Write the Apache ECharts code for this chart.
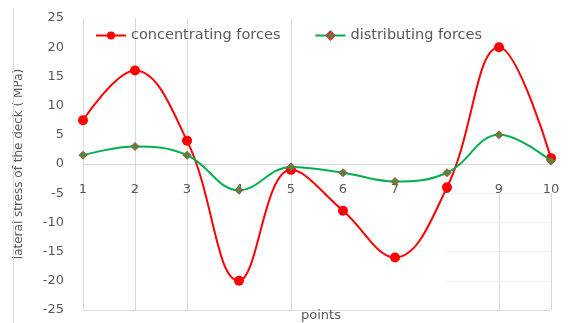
<!DOCTYPE html>
<html><head><meta charset="utf-8">
<script src="https://cdn.jsdelivr.net/npm/echarts@6/dist/echarts.min.js"></script>
<style>html,body{margin:0;padding:0;background:#fff}#c{width:570px;height:323px;position:relative}#b{position:absolute;left:13px;top:8px;width:1px;height:315px;background:#d9d9d9}</style>
</head><body><div id="c"></div><div id="b"></div>
<script>
const categories = ['1','2','3','4','5','6','7','8','9','10'];
const concentrating = [7.5, 16, 4, -20, -1, -8, -16, -4, 20, 1];
const distributing = [1.5, 3, 1.5, -4.5, -0.5, -1.5, -3, -1.5, 5, 0.5];
const seriesNames = ['concentrating forces', 'distributing forces'];
const font = 'DejaVu Sans';
const chart = echarts.init(document.getElementById('c'));
const gridLine = {color: '#d9d9d9', type: 'solid', width: 1};
const faintLine = {color: '#eeeeee', type: 'solid', width: 1};
chart.setOption({
  animation: false,
  textStyle: {fontFamily: font, color: '#595959'},
  grid: {left: 83, right: 19, top: 18, bottom: 13, containLabel: false, outerBoundsMode: 'none'},
  title: {text: 'points', left: 296, top: 304, textStyle: {fontFamily: font, fontSize: 13, fontWeight: 'normal', color: '#595959'}},
  legend: {
    left: 90, top: 23, itemWidth: 30, itemHeight: 10, itemGap: 34,
    textStyle: {fontFamily: font, fontSize: 14.5, color: '#595959'},
    data: seriesNames
  },
  xAxis: {
    type: 'category', data: categories, boundaryGap: false,
    position: 'bottom', offset: -146,
    axisLine: {onZero: false, lineStyle: {color: '#d9d9d9'}},
    axisTick: {show: false},
    axisLabel: {fontFamily: font, fontSize: 13, color: '#595959', margin: 19},
    splitLine: {show: true, interval: (i) => [0,1,2,4].includes(i), lineStyle: {color: '#d9d9d9'}}
  },
  yAxis: {
    type: 'value', min: -25, max: 25, interval: 5,
    name: 'lateral stress of the deck ( MPa)', nameLocation: 'middle', nameGap: 58,
    nameTextStyle: {fontFamily: font, fontSize: 12, color: '#595959'},
    axisLine: {show: false}, axisTick: {show: false},
    axisLabel: {fontFamily: font, fontSize: 13, color: '#595959', margin: 19},
    splitLine: {show: false}
  },
  series: [
    {name: seriesNames[0], type: 'line', smooth: 0.4, data: concentrating, z: 3,
     symbol: 'circle', symbolSize: 10, color: '#ff0000',
     lineStyle: {width: 2, color: '#ff0000'}, itemStyle: {color: '#ff0000'},
     markLine: {silent: true, symbol: 'none', label: {show: false}, z: 1,
       lineStyle: gridLine,
       data: [
         [{coord: ['1', -25]}, {coord: ['10', -25]}],
         [{coord: ['9', -5]}, {coord: ['9', -25]}],
         [{coord: ['10', -5]}, {coord: ['10', -25]}],
         [{coord: ['8', -5], lineStyle: faintLine}, {coord: ['10', -5]}],
         [{coord: ['8', -10], lineStyle: faintLine}, {coord: ['10', -10]}],
         [{coord: ['8', -15], lineStyle: faintLine}, {coord: ['10', -15]}],
         [{coord: ['8', -20], lineStyle: faintLine}, {coord: ['10', -20]}]
       ]}},
    {name: seriesNames[1], type: 'line', smooth: 0.4, data: distributing, z: 4,
     symbol: 'diamond', symbolSize: 8, color: '#00b050',
     lineStyle: {width: 2, color: '#00b050'},
     itemStyle: {color: '#4f8a3a', borderColor: '#b5473f', borderWidth: 1}}
  ]
});
</script></body></html>
